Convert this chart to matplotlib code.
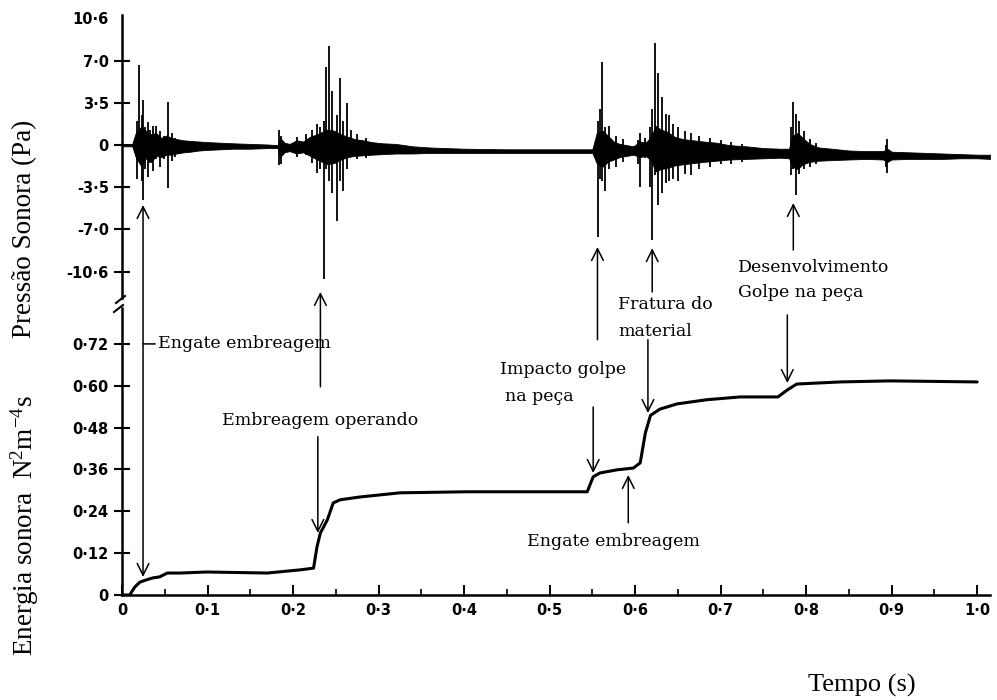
import matplotlib
matplotlib.use('Agg')
from matplotlib import pyplot as plt
from matplotlib.lines import Line2D

plt.rcParams['font.family'] = 'DejaVu Sans'
plt.rcParams['mathtext.fontset'] = 'custom'
plt.rcParams['mathtext.rm'] = 'Liberation Serif'
plt.rcParams['mathtext.it'] = 'Liberation Serif:italic'

# energia sonora acumulada (N2 m-4 s)
tempo_energia = [0.0, 0.009, 0.015, 0.021, 0.028, 0.036, 0.044, 0.053, 0.068, 0.099,
                 0.170, 0.208, 0.224, 0.228, 0.232, 0.240, 0.247, 0.255, 0.278, 0.325,
                 0.403, 0.481, 0.544, 0.551, 0.559, 0.579, 0.598, 0.606, 0.612, 0.618,
                 0.629, 0.649, 0.684, 0.723, 0.767, 0.778, 0.789, 0.840, 0.898, 1.0]
energia = [0.0, 0.0, 0.023, 0.037, 0.043, 0.049, 0.052, 0.063, 0.063, 0.066,
           0.063, 0.072, 0.077, 0.138, 0.178, 0.215, 0.264, 0.273, 0.281, 0.293,
           0.296, 0.296, 0.296, 0.339, 0.350, 0.359, 0.364, 0.379, 0.465, 0.515,
           0.533, 0.548, 0.560, 0.568, 0.568, 0.588, 0.605, 0.611, 0.614, 0.611]

# envoltoria do sinal de pressao (Pa)
tempo_pressao = [0.0, 0.012, 0.016, 0.022, 0.028, 0.034, 0.040, 0.046, 0.052, 0.058,
                 0.064, 0.072, 0.080, 0.090, 0.100, 0.115, 0.130, 0.150, 0.170, 0.182,
                 0.185, 0.190, 0.196, 0.204, 0.212, 0.220, 0.228, 0.234, 0.240, 0.248,
                 0.256, 0.264, 0.272, 0.282, 0.292, 0.305, 0.320, 0.340, 0.360, 0.400,
                 0.450, 0.500, 0.550, 0.555, 0.562, 0.568, 0.575, 0.582, 0.590, 0.598,
                 0.606, 0.612, 0.618, 0.624, 0.630, 0.638, 0.646, 0.656, 0.668, 0.680,
                 0.695, 0.710, 0.730, 0.750, 0.770, 0.780, 0.784, 0.790, 0.796, 0.804,
                 0.815, 0.830, 0.850, 0.870, 0.890, 0.895, 0.900, 0.920, 0.940, 0.960,
                 0.980, 1.000, 1.015]
pressao_max = [0.1, 0.1, 1.0, 1.5, 1.2, 0.9, 1.0, 0.6, 0.8, 0.6,
               0.5, 0.4, 0.35, 0.3, 0.25, 0.2, 0.15, 0.1, 0.05, 0.0,
               0.6, 0.2, 0.1, 0.4, 0.3, 0.7, 0.9, 1.1, 1.3, 1.2,
               0.9, 0.7, 0.5, 0.4, 0.25, 0.15, 0.1, -0.1, -0.2, -0.3,
               -0.35, -0.35, -0.35, 1.0, 1.2, 0.8, 0.3, 0.1, 0.0, -0.1,
               0.3, 0.2, 0.6, 1.6, 1.3, 1.1, 0.7, 0.5, 0.4, 0.3,
               0.2, 0.0, -0.1, -0.25, -0.3, -0.3, 0.8, 1.0, 0.6, 0.1,
               -0.2, -0.3, -0.45, -0.5, -0.5, -0.3, -0.55, -0.6, -0.65, -0.7,
               -0.75, -0.8, -0.8]
pressao_min = [-0.1, -0.1, -1.0, -1.7, -1.1, -1.4, -0.9, -1.0, -0.8, -0.8,
               -0.7, -0.6, -0.55, -0.45, -0.4, -0.35, -0.3, -0.3, -0.25, -0.25,
               -1.0, -0.6, -0.5, -0.7, -0.6, -0.9, -1.2, -1.4, -1.6, -1.5,
               -1.2, -1.0, -0.9, -0.85, -0.8, -0.75, -0.7, -0.7, -0.65, -0.65,
               -0.65, -0.65, -0.65, -1.5, -1.8, -1.4, -1.2, -1.0, -0.9, -0.8,
               -1.0, -0.9, -1.2, -2.2, -2.0, -1.9, -1.7, -1.6, -1.5, -1.4,
               -1.3, -1.2, -1.15, -1.1, -1.05, -1.1, -1.8, -2.0, -1.6, -1.4,
               -1.3, -1.25, -1.2, -1.15, -1.2, -1.4, -1.2, -1.15, -1.15, -1.15,
               -1.1, -1.1, -1.15]

# picos do sinal de pressao (Pa)
tempo_picos = [0.018, 0.020, 0.023, 0.025, 0.027, 0.030, 0.033, 0.036, 0.040, 0.045,
               0.049, 0.054, 0.058, 0.062,
               0.184, 0.186, 0.205, 0.215, 0.222, 0.228, 0.232, 0.236, 0.239, 0.242,
               0.246, 0.251, 0.255, 0.259, 0.263, 0.268, 0.275, 0.285,
               0.557, 0.559, 0.561, 0.565, 0.570, 0.578, 0.586, 0.603, 0.606, 0.612,
               0.618, 0.620, 0.623, 0.627, 0.632, 0.636, 0.640, 0.644, 0.650, 0.658,
               0.665, 0.675, 0.688, 0.700, 0.712, 0.725,
               0.782, 0.785, 0.788, 0.792, 0.798, 0.805, 0.812, 0.893, 0.895]
picos_max = [2.0, 6.7, 2.5, 3.8, 1.5, 1.9, 1.3, 1.6, 1.6, 1.2,
             0.8, 3.6, 1.0, 0.6,
             1.3, 0.8, 0.7, 0.9, 1.3, 1.8, 1.5, 2.0, 6.5, 8.3,
             4.5, 2.5, 5.6, 2.0, 3.5, 1.3, 0.9, 0.6,
             2.0, 3.0, 6.9, 1.5, 1.6, 0.8, 0.5, 0.4, 1.0, 0.6,
             1.5, 3.0, 8.5, 6.0, 4.0, 2.6, 2.5, 1.8, 1.5, 1.2,
             1.0, 0.8, 0.6, 0.4, 0.3, 0.1,
             1.5, 3.6, 2.6, 2.0, 1.2, 0.5, 0.2, 0.0, 0.55]
picos_min = [-2.8, -0.5, -3.0, -4.6, -2.0, -2.7, -1.5, -2.2, -1.2, -1.8,
             -1.2, -3.6, -1.3, -1.0,
             -1.7, -1.6, -1.0, -0.8, -1.5, -2.3, -2.0, -11.2, -2.0, -3.0,
             -4.0, -6.3, -3.0, -3.8, -2.0, -1.0, -1.2, -1.1,
             -7.7, -2.8, -3.0, -3.8, -2.0, -1.8, -1.4, -1.6, -3.5, -1.1,
             -3.5, -7.9, -2.5, -5.0, -4.0, -3.2, -3.0, -2.8, -3.0, -2.4,
             -2.5, -2.0, -1.8, -1.6, -1.6, -1.4,
             -2.5, -2.0, -4.2, -2.4, -2.0, -1.8, -1.6, -1.8, -2.3]

ticks_tempo = [0, 0.1, 0.2, 0.3, 0.4, 0.5, 0.6, 0.7, 0.8, 0.9, 1.0]
rotulos_tempo = ['0', '0·1', '0·2', '0·3', '0·4', '0·5', '0·6', '0·7', '0·8', '0·9', '1·0']
ticks_energia = [0, 0.12, 0.24, 0.36, 0.48, 0.60, 0.72]
rotulos_energia = ['0', '0·12', '0·24', '0·36', '0·48', '0·60', '0·72']
ticks_pressao = [-10.6, -7.0, -3.5, 0, 3.5, 7.0, 10.6]
rotulos_pressao = ['-10·6', '-7·0', '-3·5', '0', '3·5', '7·0', '10·6']

W, H = 997, 700
fig = plt.figure(figsize=(W / 100, H / 100), dpi=100)

# eixos: inferior (energia) e superior (pressao) com quebra entre eles
ax_e = fig.add_axes([122 / W, 1 - 595 / H, 868 / W, 287 / H])
ax_p = fig.add_axes([122 / W, 1 - 298 / H, 868 / W, 283 / H], sharex=ax_e)

fonte_ticks = dict(family='DejaVu Sans', weight='bold', size=10.5)

ax_e.plot(tempo_energia, energia, color='black', lw=2.2, solid_capstyle='round')
ax_e.set_xlim(0, 1.015)
ax_e.set_ylim(0, 0.823)
ax_e.set_xticks(ticks_tempo)
ax_e.set_xticklabels(rotulos_tempo, fontdict=fonte_ticks)
ax_e.set_xticks([0.05 + 0.1 * i for i in range(10)], minor=True)
ax_e.set_yticks(ticks_energia)
ax_e.set_yticklabels(rotulos_energia, fontdict=fonte_ticks)
ax_e.tick_params(axis='x', which='major', direction='in', length=7, width=1.4, pad=6)
ax_e.tick_params(axis='x', which='minor', direction='in', length=4, width=1.2)
ax_e.tick_params(axis='y', direction='inout', length=11, width=1.5, pad=4)
for s in ['top', 'right']:
    ax_e.spines[s].set_visible(False)
for s in ['left', 'bottom']:
    ax_e.spines[s].set_linewidth(1.8)

ax_p.fill_between(tempo_pressao, pressao_min, pressao_max, color='black', lw=0.6)
ax_p.vlines(tempo_picos, picos_min, picos_max, color='black', lw=1.3)
ax_p.set_ylim(-12.75, 10.85)
ax_p.set_yticks(ticks_pressao)
ax_p.set_yticklabels(rotulos_pressao, fontdict=fonte_ticks)
ax_p.tick_params(axis='y', direction='inout', length=11, width=1.5, pad=4)
ax_p.tick_params(axis='x', which='both', bottom=False, labelbottom=False)
ax_p.yaxis.get_major_ticks()[-1].tick1line.set_visible(False)
for s in ['top', 'right', 'bottom']:
    ax_p.spines[s].set_visible(False)
ax_p.spines['left'].set_linewidth(1.8)
ax_p.patch.set_alpha(0)


def seta(t, y0, ax0, y1, ax1, estilo='->'):
    ax_e.annotate('', xy=(t, y1), xycoords=ax1.transData,
                  xytext=(t, y0), textcoords=ax0.transData,
                  arrowprops=dict(arrowstyle=estilo + ',head_length=0.6,head_width=0.3',
                                  color='black', lw=1.1, shrinkA=0, shrinkB=0,
                                  mutation_scale=14),
                  annotation_clip=False)


seta(0.0246, 0.052, ax_e, -5.0, ax_p, '<->')
seta(0.232, 0.597, ax_e, -12.25, ax_p)
seta(0.229, 0.454, ax_e, 0.178, ax_e)
seta(0.551, 0.539, ax_e, 0.350, ax_e)
seta(0.556, 0.732, ax_e, -8.5, ax_p)
seta(0.592, 0.207, ax_e, 0.344, ax_e)
seta(0.615, 0.732, ax_e, 0.522, ax_e)
seta(0.620, -12.25, ax_p, -8.6, ax_p)
seta(0.785, -8.75, ax_p, -4.83, ax_p)
seta(0.778, 0.803, ax_e, 0.608, ax_e)

fonte_txt = dict(family='DejaVu Serif', size=12.5)
ax_e.annotate('Engate embreagem', xy=(0.0246, 0.72), xytext=(0.042, 0.72),
              va='center', ha='left', arrowprops=dict(arrowstyle='-', lw=1.1,
              shrinkA=0, shrinkB=0), **fonte_txt)
ax_e.text(0.232, 0.499, 'Embreagem operando', ha='center', va='center', **fonte_txt)
ax_e.text(0.442, 0.646, 'Impacto golpe', ha='left', va='center', **fonte_txt)
ax_e.text(0.448, 0.568, 'na peça', ha='left', va='center', **fonte_txt)
ax_e.text(0.474, 0.152, 'Engate embreagem', ha='left', va='center', **fonte_txt)
ax_e.text(0.580, 0.832, 'Fratura do', ha='left', va='center', **fonte_txt)
ax_e.text(0.580, 0.755, 'material', ha='left', va='center', **fonte_txt)
ax_p.text(0.720, -10.17, 'Desenvolvimento', ha='left', va='center', **fonte_txt)
ax_p.text(0.720, -12.25, 'Golpe na peça', ha='left', va='center', **fonte_txt)

# marcas de quebra do eixo vertical
for (xa, ya, xb, yb) in [(116, 303, 125, 296), (114, 312, 123, 305)]:
    fig.add_artist(Line2D([xa / W, xb / W], [1 - ya / H, 1 - yb / H],
                          transform=fig.transFigure, color='black', lw=1.5))

fig.text(25 / W, 1 - 229 / H, 'Pressão Sonora (Pa)', rotation=90, ha='center',
         va='center', family='Liberation Serif', size=19.5)
fig.text(25 / W, 1 - 526 / H, r'Energia sonora  N$^2$m$^{-4}$s', rotation=90,
         ha='center', va='center', family='Liberation Serif', size=19.5)
fig.text(862 / W, 1 - 685 / H, 'Tempo (s)', ha='center', va='center',
         family='Liberation Serif', size=19)

fig.savefig('out.png', dpi=100)
